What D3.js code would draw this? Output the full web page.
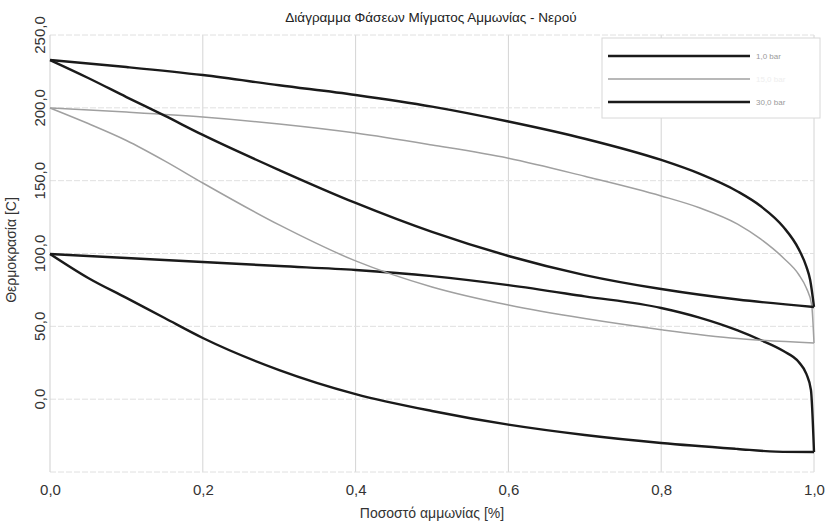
<!DOCTYPE html>
<html>
<head>
<meta charset="utf-8">
<script src="https://cdn.jsdelivr.net/npm/d3@7"></script>
<style>
  body { margin: 0; background: #fff; }
  svg { font-family: "Liberation Sans", Arial, sans-serif; }
</style>
</head>
<body>
<svg id="chart" width="827" height="524"></svg>
<script>
// Phase diagram ammonia - water
var title = "Διάγραμμα Φάσεων Μίγματος Αμμωνίας - Νερού";
var xTicks = [0, 0.2, 0.4, 0.6, 0.8, 1.0];
var yTicks = [0, 50, 100, 150, 200, 250];

// 30 bar (black, top)
var dew30x = [0, 0.1, 0.2, 0.3, 0.4, 0.5, 0.6, 0.7, 0.8, 0.85, 0.9, 0.93, 0.96, 0.98, 0.99, 0.995, 1.0];
var dew30y = [232.8, 228.0, 222.5, 215.5, 208.8, 200.8, 190.6, 178.8, 164.2, 154.8, 142.6, 132.6, 118.2, 103.0, 91.0, 81.8, 63.3];
var bub30x = [0, 0.05, 0.1, 0.15, 0.2, 0.3, 0.4, 0.5, 0.6, 0.7, 0.8, 0.9, 1.0];
var bub30y = [232.8, 220.5, 207.4, 194.6, 181.4, 157.3, 134.7, 114.8, 98.3, 85.2, 75.6, 68.4, 63.3];

// 15 bar (grey, middle)
var dew15x = [0, 0.1, 0.2, 0.3, 0.4, 0.5, 0.6, 0.7, 0.8, 0.85, 0.9, 0.93, 0.96, 0.98, 0.99, 0.997, 1.0];
var dew15y = [199.9, 197.1, 193.7, 188.9, 182.7, 174.5, 165.4, 153.0, 139.5, 131.4, 120.2, 110.0, 96.9, 85.6, 76.3, 64.6, 38.6];
var bub15x = [0, 0.05, 0.1, 0.15, 0.2, 0.3, 0.4, 0.5, 0.6, 0.7, 0.8, 0.9, 1.0];
var bub15y = [199.9, 189.2, 177.6, 163.6, 148.4, 119.6, 94.9, 77.0, 64.6, 55.3, 47.7, 41.6, 38.6];

// 1 bar (black, bottom)
var dew1x = [0, 0.1, 0.2, 0.3, 0.4, 0.5, 0.6, 0.7, 0.8, 0.85, 0.9, 0.93, 0.96, 0.98, 0.99, 0.996, 1.0];
var dew1y = [99.7, 96.9, 94.2, 91.4, 88.7, 84.5, 78.3, 70.6, 62.6, 56.0, 47.2, 40.6, 33.0, 25.5, 17.3, 6.3, -36.3];
var bub1x = [0, 0.05, 0.1, 0.15, 0.2, 0.3, 0.4, 0.5, 0.6, 0.7, 0.8, 0.9, 0.95, 1.0];
var bub1y = [99.7, 83.2, 69.5, 55.7, 42.0, 20.0, 3.5, -8.1, -17.5, -24.6, -30.1, -34.2, -36.0, -36.3];

var series = [
  {name: "1,0 bar", color: "#1a1a1a", width: 2.4, curves: [[dew1x, dew1y], [bub1x, bub1y]]},
  {name: "15,0 bar", color: "#a0a0a0", width: 1.5, curves: [[dew15x, dew15y], [bub15x, bub15y]]},
  {name: "30,0 bar", color: "#1a1a1a", width: 2.4, curves: [[dew30x, dew30y], [bub30x, bub30y]]}
];

var svg = d3.select("#chart");
var plotLeft = 50, plotRight = 814, plotTop = 35, plotBottom = 472;

var x = d3.scaleLinear().domain([0, 1]).range([plotLeft, plotRight]);
var y = d3.scaleLinear().domain([-50, 250]).range([plotBottom, plotTop]);
var fmt = d => d3.format(".1f")(d).replace(".", ",");

// grid
var grid = svg.append("g");
grid.selectAll("line.v")
  .data(xTicks.slice(1))
  .enter().append("line")
  .attr("x1", d => x(d)).attr("x2", d => x(d))
  .attr("y1", plotTop).attr("y2", plotBottom)
  .attr("stroke", "#d4d4d4").attr("stroke-width", 1);
grid.selectAll("line.h")
  .data(yTicks.concat([-50]))
  .enter().append("line")
  .attr("x1", plotLeft).attr("x2", plotRight)
  .attr("y1", d => y(d)).attr("y2", d => y(d))
  .attr("stroke", "#e0e0e0").attr("stroke-width", 1)
  .attr("stroke-dasharray", "6,2");

// left axis line
svg.append("line")
  .attr("x1", plotLeft).attr("x2", plotLeft)
  .attr("y1", plotTop).attr("y2", plotBottom)
  .attr("stroke", "#cfcfcf");

// x axis
var xAxis = d3.axisBottom(x).tickValues(xTicks)
  .tickFormat(fmt)
  .tickSize(0).tickPadding(12);
var gx = svg.append("g").attr("transform", "translate(0," + plotBottom + ")").call(xAxis);
gx.select(".domain").remove();
gx.selectAll("text").attr("font-size", 15).attr("fill", "#333")
  .attr("font-family", "Liberation Sans, Arial, sans-serif");

// y axis (rotated labels)
var gy = svg.append("g");
gy.selectAll("text")
  .data(yTicks)
  .enter().append("text")
  .attr("transform", d => "translate(45," + y(d) + ") rotate(-90)")
  .attr("text-anchor", "middle")
  .attr("font-size", 15).attr("fill", "#333")
  .text(fmt);

// titles
svg.append("text")
  .attr("x", 431).attr("y", 22)
  .attr("text-anchor", "middle").attr("font-size", 13.5).attr("fill", "#222")
  .text(title);
svg.append("text")
  .attr("x", 432).attr("y", 518)
  .attr("text-anchor", "middle").attr("font-size", 14).attr("fill", "#333")
  .text("Ποσοστό αμμωνίας [%]");
svg.append("text")
  .attr("transform", "translate(16,250) rotate(-90)")
  .attr("text-anchor", "middle").attr("font-size", 14).attr("fill", "#333")
  .text("Θερμοκρασία [C]");

// curves
var line = d3.line().x(d => x(d[0])).y(d => y(d[1])).curve(d3.curveMonotoneX);
series.forEach(function(s) {
  s.curves.forEach(function(c) {
    var pts = c[0].map((v, i) => [v, c[1][i]]);
    svg.append("path")
      .attr("d", line(pts))
      .attr("fill", "none")
      .attr("stroke", s.color)
      .attr("stroke-width", s.width)
      .attr("stroke-linejoin", "round");
  });
});

// legend
var legend = svg.append("g").attr("transform", "translate(602,38)");
legend.append("rect")
  .attr("width", 218).attr("height", 80)
  .attr("fill", "#fff").attr("stroke", "#d8d8d8");
var items = legend.selectAll("g.item")
  .data(series)
  .enter().append("g")
  .attr("transform", (d, i) => "translate(0," + (18 + i * 23) + ")");
items.append("line")
  .attr("x1", 6).attr("x2", 148)
  .attr("stroke", d => d.color).attr("stroke-width", d => d.width);
items.append("text")
  .attr("x", 154).attr("y", 3)
  .attr("font-size", 8).attr("fill", (d, i) => i === 1 ? "#eeeeee" : "#9a9a9a")
  .text(d => d.name);
</script>
</body>
</html>
